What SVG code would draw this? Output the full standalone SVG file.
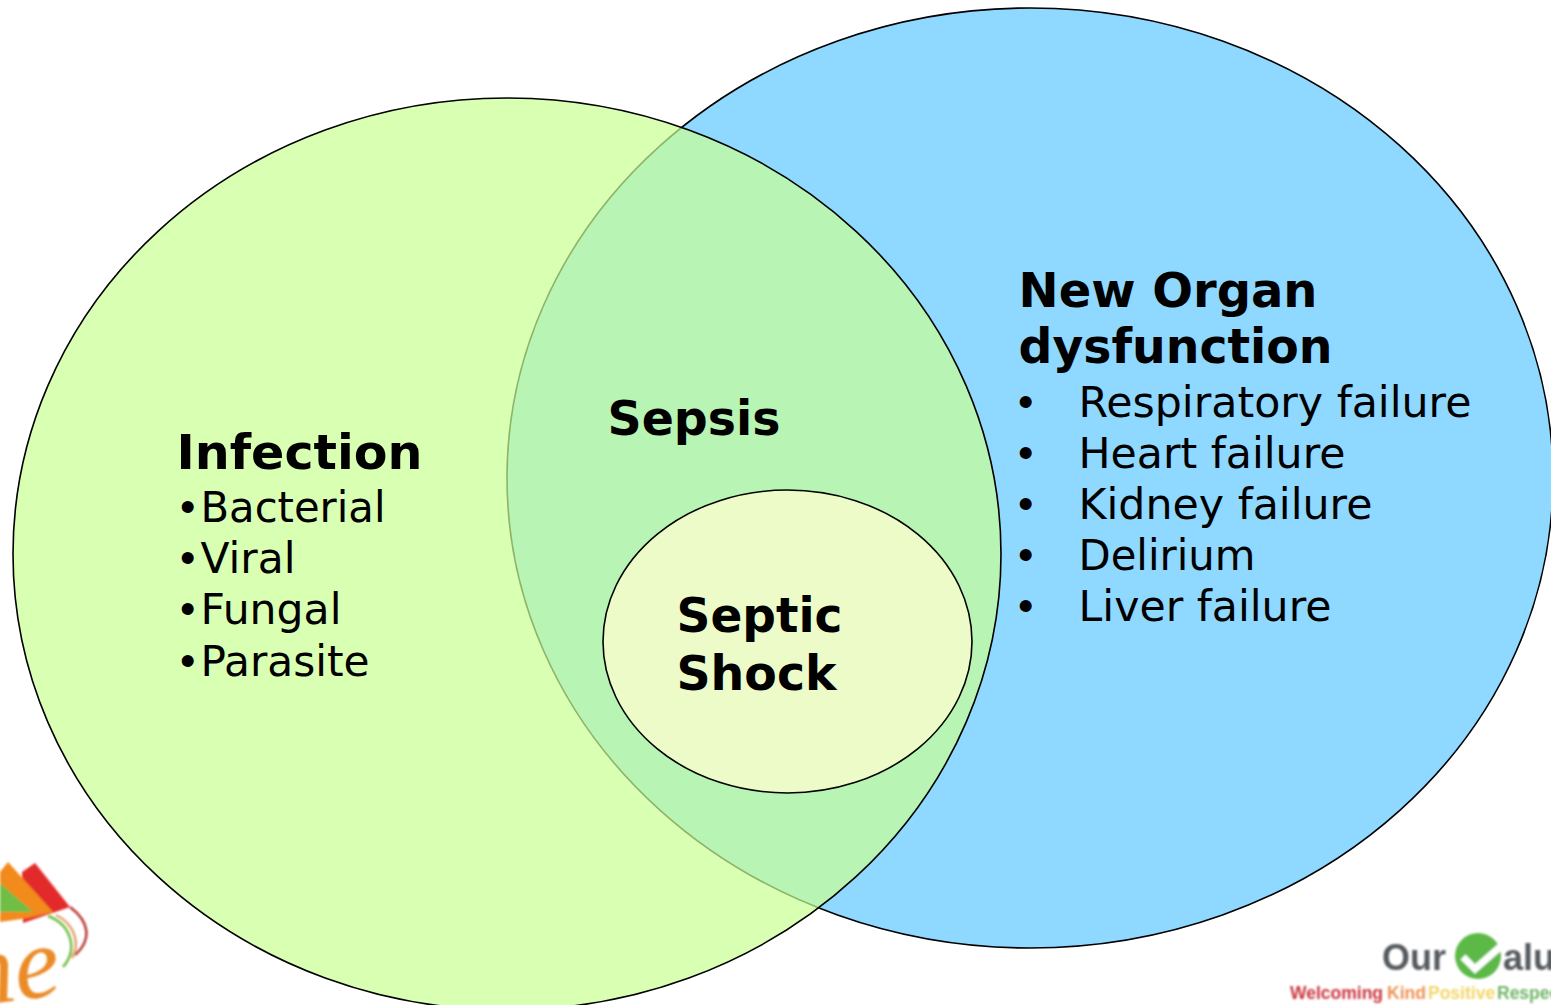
<svg xmlns="http://www.w3.org/2000/svg" width="1551" height="1005" viewBox="0 0 1551 1005">
<style>
text{font-family:"DejaVu Sans",Verdana,sans-serif;fill:#000}
.h{font-size:47.5px;font-weight:700}
.b{font-size:42px}
.d{font-size:44px;font-family:"Liberation Sans",Arial,sans-serif}
.e{stroke:#000;stroke-width:1.6}
.lg{font-family:"Liberation Sans",Arial,sans-serif;font-weight:700}
</style>
<defs>
<filter id="soft" x="-20%" y="-20%" width="140%" height="140%"><feGaussianBlur stdDeviation="1.2"/></filter>
</defs>
<rect width="1551" height="1005" fill="#fff"/>
<g id="logo-left" filter="url(#soft)">
<path d="M35 863L70 907L23 923L22 872Z" fill="#e3292a"/>
<path d="M8 862L53 912L28 918L0 922L0 872Z" fill="#f28a1f"/>
<path d="M0 883L33 912L0 912Z" fill="#6fbe44"/>
<path d="M70 907C90 922 92 940 75 955" fill="none" stroke="#b8352f" stroke-width="2.5"/>
<path d="M56 915C76 925 80 945 72 958" fill="none" stroke="#e2a06a" stroke-width="2.5"/>
<path d="M48 916C72 925 78 950 63 967" fill="none" stroke="#6fbe44" stroke-width="2.5"/>
<text x="-33" y="1000" font-size="102" font-style="italic" transform="rotate(-8 20 998)" style="font-family:'Liberation Serif',serif;fill:#ea8b26">ne</text>
</g>
<g id="logo-right" filter="url(#soft)">
<text class="lg" x="1382" y="970" font-size="36" style="fill:#555a5e">Our</text>
<circle cx="1478" cy="956" r="23" fill="#5cb947"/>
<path d="M1463 957L1475 969L1500 947" fill="none" stroke="#fff" stroke-width="7"/>
<text class="lg" x="1503" y="970" font-size="36" style="fill:#555a5e">alu</text>
<text class="lg" x="1290" y="999" font-size="17.5" style="fill:#c9363d">Welcoming</text>
<text class="lg" x="1387" y="999" font-size="17.5" style="fill:#ef9152">Kind</text>
<text class="lg" x="1428" y="999" font-size="17.5" style="fill:#f2d667">Positive</text>
<text class="lg" x="1497" y="999" font-size="17.5" style="fill:#6fb567">Respect</text>
</g>
<g id="organ">
<ellipse class="e" cx="1030" cy="478" rx="523" ry="470" fill="#8fd8ff"/>
</g>
<g id="infection">
<ellipse class="e" cx="507" cy="554" rx="494" ry="456" fill="#c9ff93" fill-opacity=".705"/>
</g>
<g id="shock">
<ellipse class="e" cx="787.5" cy="641.5" rx="184.5" ry="151.5" fill="#ecfbc8"/>
</g>
<g id="infection-text">
<text class="h" x="176.5" y="469" textLength="246" lengthAdjust="spacingAndGlyphs">Infection</text>
<text x="180" y="522"><tspan class="d">•</tspan><tspan class="b" x="200.5" textLength="185" lengthAdjust="spacingAndGlyphs">Bacterial</tspan></text>
<text x="180" y="573"><tspan class="d">•</tspan><tspan class="b" x="200.5" textLength="95" lengthAdjust="spacingAndGlyphs">Viral</tspan></text>
<text x="180" y="624"><tspan class="d">•</tspan><tspan class="b" x="200.5" textLength="141" lengthAdjust="spacingAndGlyphs">Fungal</tspan></text>
<text x="180" y="676"><tspan class="d">•</tspan><tspan class="b" x="200.5" textLength="169" lengthAdjust="spacingAndGlyphs">Parasite</tspan></text>
</g>
<g id="sepsis-text">
<text class="h" x="607.5" y="435" textLength="173" lengthAdjust="spacingAndGlyphs">Sepsis</text>
</g>
<g id="shock-text">
<text class="h" x="676.5" y="632" textLength="166" lengthAdjust="spacingAndGlyphs">Septic</text>
<text class="h" x="676.5" y="690" textLength="160" lengthAdjust="spacingAndGlyphs">Shock</text>
</g>
<g id="organ-text">
<text class="h" x="1018.5" y="306.5" textLength="299" lengthAdjust="spacingAndGlyphs">New Organ</text>
<text class="h" x="1018.5" y="363" textLength="314" lengthAdjust="spacingAndGlyphs">dysfunction</text>
<text class="d" x="1018" y="417">•</text><text class="b" x="1078.5" y="417" textLength="393" lengthAdjust="spacingAndGlyphs">Respiratory failure</text>
<text class="d" x="1018" y="468">•</text><text class="b" x="1078.5" y="468" textLength="267" lengthAdjust="spacingAndGlyphs">Heart failure</text>
<text class="d" x="1018" y="519">•</text><text class="b" x="1078.5" y="519" textLength="294" lengthAdjust="spacingAndGlyphs">Kidney failure</text>
<text class="d" x="1018" y="570">•</text><text class="b" x="1078.5" y="570" textLength="177" lengthAdjust="spacingAndGlyphs">Delirium</text>
<text class="d" x="1018" y="621">•</text><text class="b" x="1078.5" y="621" textLength="253" lengthAdjust="spacingAndGlyphs">Liver failure</text>
</g>
</svg>
